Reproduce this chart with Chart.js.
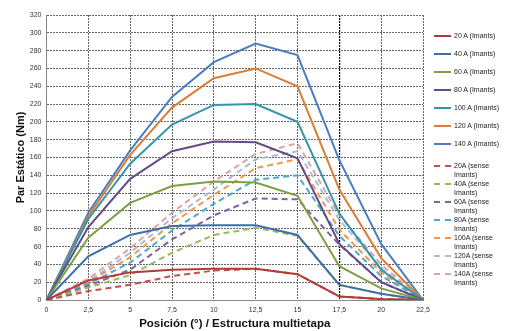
<!DOCTYPE html>
<html>
<head>
<meta charset="utf-8">
<script src="https://cdn.jsdelivr.net/npm/chart.js@4.4.1/dist/chart.umd.min.js"></script>
<style>
    html, body { margin: 0; padding: 0; background: #fff; }
    #wrap { position: relative; width: 510px; height: 331px; }
    #chart { position: absolute; left: 0; top: 0; }
    #legend { position: absolute; left: 434px; top: 27px; font: 7px "Liberation Sans", Arial, sans-serif; color: #222; }
    .item { display: flex; align-items: flex-start; height: 18px; }
    .item .line { width: 17px; margin-right: 3px; flex: none; }
    .item .txt { width: 52px; line-height: 9px; }
    .solid .line { margin-top: 8px; }
    .solid .txt { line-height: 18px; }
    .dashed .line { margin-top: 4px; }
    .first-dashed { margin-top: 8px; }
</style>
</head>
<body>
<div id="wrap">
    <canvas id="chart" width="510" height="331"></canvas>
    <div id="legend"></div>
</div>
<script>
const positions = ["0", "2,5", "5", "7,5", "10", "12,5", "15", "17,5", "20", "22,5"];

// Imants (solid)
const imants20 = [0, 22, 31, 34, 35, 35, 29, 4, 1, 0];
const imants40 = [0, 49, 73, 83, 84, 84, 73, 17, 7, 0];
const imants60 = [0, 70, 109, 128, 133, 132, 117, 38, 13, 0];
const imants80 = [0, 82, 136, 167, 178, 177, 159, 63, 20, 0];
const imants100 = [0, 91, 153, 197, 219, 220, 200, 97, 34, 0];
const imants120 = [0, 94, 163, 216, 249, 260, 240, 124, 47, 0];
const imants140 = [0, 98, 168, 228, 267, 288, 275, 157, 63, 0];

// sense Imants (dashed)
const sense20 = [0, 10, 17, 27, 33, 35, 29, 4, 1, 0];
const sense40 = [0, 14, 28, 53, 73, 81, 72, 17, 7, 0];
const sense60 = [0, 16, 34, 68, 95, 114, 113, 62, 20, 0];
const sense80 = [0, 18, 42, 78, 108, 135, 140, 72, 27, 0];
const sense100 = [0, 20, 48, 86, 118, 148, 158, 79, 31, 0];
const sense120 = [0, 21, 53, 92, 124, 158, 167, 90, 36, 0];
const sense140 = [0, 24, 58, 98, 133, 164, 176, 95, 40, 0];

const yTicks = [0, 320, 20]; // min, max, step

function solid(label, data, color) {
    return { label, data, borderColor: color, backgroundColor: color, borderWidth: 2, pointRadius: 0, tension: 0, fill: false };
}

function dashed(label, data, color) {
    return {...solid(label, data, color), borderDash: [6, 4] };
}

const datasets = [
    solid("20 A (Imants)", imants20, "#b23c3a"),
    solid("40 A (Imants)", imants40, "#3f6eac"),
    solid("60 A (Imants)", imants60, "#7f9f45"),
    solid("80 A (Imants)", imants80, "#644a86"),
    solid("100 A (Imants)", imants100, "#3495a8"),
    solid("120 A (Imants)", imants120, "#dc7d34"),
    solid("140 A (Imants)", imants140, "#4a7ec0"),
    dashed("20A (sense Imants)", sense20, "#c4504d"),
    dashed("40A (sense Imants)", sense40, "#9bbb59"),
    dashed("60A (sense Imants)", sense60, "#8064a2"),
    dashed("80A (sense Imants)", sense80, "#4bacc6"),
    dashed("100A (sense Imants)", sense100, "#f79646"),
    dashed("120A (sense Imants)", sense120, "#a5bcdc"),
    dashed("140A (sense Imants)", sense140, "#dca4a2"),
];

const font = "'Liberation Sans', Arial, sans-serif";

new Chart(document.getElementById("chart"), {
    type: "line",
    data: { labels: positions, datasets },
    options: {
        responsive: false,
        animation: false,
        layout: { padding: { top: 15, right: 87, left: 0, bottom: 0 } },
        plugins: { legend: { display: false }, tooltip: { enabled: false } },
        scales: {
            x: {
                offset: false,
                afterFit: s => { s.height = 31; },
                grid: {
                    color: ctx => ctx.index === 7 ? "#000" : "#666",
                    lineWidth: ctx => ctx.index === 7 ? 1.2 : 1,
                    drawTicks: false,
                },
                border: { color: "#888", dash: [2, 1] },
                ticks: { color: "#333", font: { family: font, size: 7 }, padding: 6, maxRotation: 0 },
                title: {
                    display: true,
                    text: "Posición (°) / Estructura multietapa",
                    color: "#111",
                    font: { family: font, size: 11.5, weight: "bold" },
                    padding: { top: 2, bottom: 0 },
                },
            },
            y: {
                min: yTicks[0],
                max: yTicks[1],
                afterFit: s => { s.width = 46.5; },
                grid: { color: "#666", drawTicks: false },
                border: { color: "#888", dash: [2, 1] },
                ticks: { stepSize: yTicks[2], color: "#333", font: { family: font, size: 7 }, padding: 5 },
                title: {
                    display: true,
                    text: "Par Estático (Nm)",
                    color: "#111",
                    font: { family: font, size: 11, weight: "bold" },
                    padding: { top: 14, bottom: 0 },
                },
            },
        },
    },
});

// legend on the right
const legend = document.getElementById("legend");
datasets.forEach((ds, i) => {
    const item = document.createElement("div");
    const isDashed = !!ds.borderDash;
    item.className = "item " + (isDashed ? "dashed" : "solid") + (i === 7 ? " first-dashed" : "");
    const line = document.createElement("div");
    line.className = "line";
    line.style.borderTop = "2px solid " + ds.borderColor;
    if (isDashed) {
        line.style.borderTop = "none";
        line.style.height = "2px";
        line.style.background = `linear-gradient(to right, ${ds.borderColor} 0 6px, transparent 6px 11px, ${ds.borderColor} 11px 17px)`;
    }
    const txt = document.createElement("div");
    txt.className = "txt";
    txt.textContent = ds.label;
    item.appendChild(line);
    item.appendChild(txt);
    legend.appendChild(item);
});
</script>
</body>
</html>
